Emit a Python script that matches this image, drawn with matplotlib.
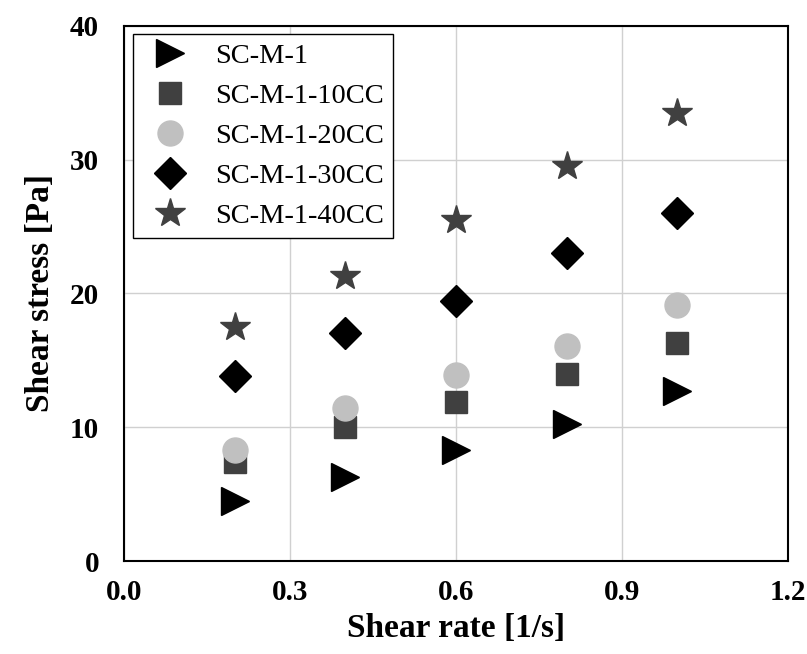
import matplotlib
matplotlib.use('Agg')
import matplotlib.pyplot as plt

plt.rcParams['font.family'] = ['Liberation Serif', 'DejaVu Serif']

# shear rate [1/s]
rate = [0.2, 0.4, 0.6, 0.8, 1.0]

# shear stress [Pa]
sc_m_1 = [4.5, 6.3, 8.3, 10.2, 12.7]
sc_m_1_10cc = [7.4, 10.0, 11.9, 14.0, 16.3]
sc_m_1_20cc = [8.3, 11.4, 13.9, 16.1, 19.1]
sc_m_1_30cc = [13.8, 17.0, 19.4, 23.0, 26.0]
sc_m_1_40cc = [17.5, 21.3, 25.5, 29.5, 33.5]

labels = ['SC-M-1', 'SC-M-1-10CC', 'SC-M-1-20CC', 'SC-M-1-30CC', 'SC-M-1-40CC']

fig = plt.figure(figsize=(8.07, 6.54), dpi=100)
ax = fig.add_axes([0.1537, 0.1422, 0.8228, 0.8185])

ax.plot(rate, sc_m_1, linestyle='none', marker='>', ms=20, color='black', label=labels[0])
ax.plot(rate, sc_m_1_10cc, linestyle='none', marker='s', ms=16, color='#404040', label=labels[1])
ax.plot(rate, sc_m_1_20cc, linestyle='none', marker='o', ms=18, color='#c0c0c0', label=labels[2])
ax.plot(rate, sc_m_1_30cc, linestyle='none', marker='D', ms=16, color='black', label=labels[3])
ax.plot(rate, sc_m_1_40cc, linestyle='none', marker='*', ms=22, color='#404040', label=labels[4])

ax.set_xlim(0, 1.2)
ax.set_ylim(0, 40)
ax.set_xticks([0.0, 0.3, 0.6, 0.9, 1.2])
ax.set_yticks([0, 10, 20, 30, 40])
ax.set_xticklabels(['0.0', '0.3', '0.6', '0.9', '1.2'])
ax.grid(True, color='#d0d0d0', linewidth=1)
ax.set_axisbelow(True)
ax.tick_params(axis='x', length=0, pad=13, labelsize=21)
ax.tick_params(axis='y', length=0, pad=18, labelsize=21)
for t in ax.get_xticklabels() + ax.get_yticklabels():
    t.set_fontweight('bold')
for s in ax.spines.values():
    s.set_linewidth(1.5)

ax.set_xlabel('Shear rate [1/s]', fontsize=24, fontweight='bold', labelpad=5)
ax.set_ylabel('Shear stress [Pa]', fontsize=24, fontweight='bold', labelpad=10)

leg = ax.legend(loc='upper left', fontsize=20.5, fancybox=False, framealpha=1,
                edgecolor='black', borderaxespad=0.3, handletextpad=0.6,
                labelspacing=0.5, numpoints=1, borderpad=0.3)
leg.get_frame().set_linewidth(1)

fig.savefig('out.png', dpi=100)
